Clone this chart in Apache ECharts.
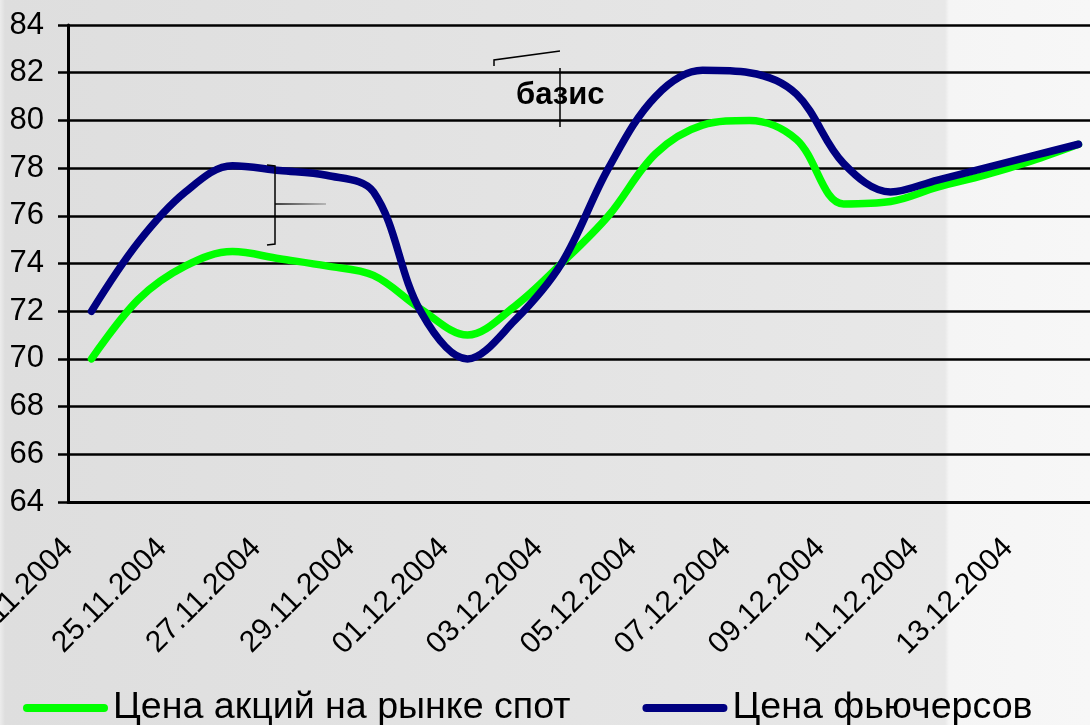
<!DOCTYPE html>
<html>
<head>
<meta charset="utf-8">
<script src="https://cdn.jsdelivr.net/npm/echarts@6/dist/echarts.min.js"></script>
<style>
  html, body { margin: 0; padding: 0; overflow: hidden; }
  #basis-chart {
    width: 1090px; height: 725px;
    background: linear-gradient(to right, #ececec 0px, #dedede 5px, #e2e2e2 400px, #e8e8e8 945px, #f5f5f5 949px, #f7f7f7 1090px);
  }
</style>
</head>
<body>
<div id="basis-chart"></div>
<script>
// даты торгов
var dates = ['23.11.2004', '24.11.2004', '25.11.2004', '26.11.2004', '27.11.2004', '28.11.2004',
    '29.11.2004', '30.11.2004', '01.12.2004', '02.12.2004', '03.12.2004', '04.12.2004',
    '05.12.2004', '06.12.2004', '07.12.2004', '08.12.2004', '09.12.2004', '10.12.2004',
    '11.12.2004', '12.12.2004', '13.12.2004', '14.12.2004'];
// цена акций на рынке спот
var spot = [70.0, 72.5, 73.9, 74.5, 74.2, 73.9, 73.5, 72.1, 71.0, 72.2, 74.0,
    76.0, 78.6, 79.8, 80.0, 79.2, 76.5, 76.6, 77.2, 77.7, 78.3, 79.0];
// цена фьючерсов
var futures = [72.0, 74.9, 77.0, 78.1, 77.9, 77.7, 77.0, 72.0, 70.0, 71.6, 74.0,
    78.0, 81.0, 82.1, 82.0, 81.1, 78.2, 77.0, 77.5, 78.0, 78.5, 79.0];
var seriesNames = ['Цена акций на рынке спот', 'Цена фьючерсов'];
var yTicks = [64, 66, 68, 70, 72, 74, 76, 78, 80, 82, 84];

var font = 'Liberation Sans, Arial, sans-serif';
var pill = 'path://M4,0 H81 A4,4 0 0 1 81,8 H4 A4,4 0 0 1 4,0 Z';

var myChart = echarts.init(document.getElementById('basis-chart'));
var option = {
    animation: false,
    backgroundColor: 'transparent',
    textStyle: { fontFamily: font },
    grid: {
        left: 68,
        top: 25,
        right: -12,
        bottom: 223,
        containLabel: false,
        outerBoundsMode: 'none'
    },
    legend: {
        left: 18,
        top: 684,
        itemWidth: 85,
        itemHeight: 8,
        itemGap: 72,
        icon: pill,
        textStyle: { fontSize: 37.6, color: '#000', fontFamily: font },
        data: [
            { name: seriesNames[0], itemStyle: { color: '#00ff00' } },
            { name: seriesNames[1], itemStyle: { color: '#000080' } }
        ]
    },
    xAxis: {
        type: 'category',
        boundaryGap: true,
        data: dates,
        axisLine: { lineStyle: { color: '#000', width: 3 } },
        axisTick: { interval: 1, length: 8, lineStyle: { color: '#000', width: 2.5 } },
        axisLabel: {
            interval: 1,
            rotate: 45,
            fontSize: 30,
            color: '#000',
            margin: 18,
            padding: [0, 33, 0, 0]
        },
        splitLine: { show: false }
    },
    yAxis: {
        type: 'value',
        min: yTicks[0],
        max: yTicks[yTicks.length - 1],
        interval: 2,
        axisLine: { show: true, lineStyle: { color: '#000', width: 3 } },
        axisTick: { show: true, length: 10, lineStyle: { color: '#000', width: 2.5 } },
        axisLabel: { fontSize: 31, color: '#000', margin: 24 },
        splitLine: { show: true, lineStyle: { color: '#000', width: 2.5 } }
    },
    series: [
        {
            name: seriesNames[0],
            type: 'line',
            data: spot,
            smooth: 0.35,
            symbol: 'none',
            lineStyle: { color: '#00ff00', width: 7.5, cap: 'round', join: 'round' },
            itemStyle: { color: '#00ff00' }
        },
        {
            name: seriesNames[1],
            type: 'line',
            data: futures,
            smooth: 0.35,
            symbol: 'none',
            lineStyle: { color: '#000080', width: 7.5, cap: 'round', join: 'round' },
            itemStyle: { color: '#000080' }
        }
    ],
    graphic: [
        // скобка между линиями
        {
            type: 'polyline',
            shape: { points: [[267, 165], [275, 166], [275, 244], [267, 245]] },
            style: { stroke: '#000', lineWidth: 1.5, fill: null },
            z: 10
        },
        {
            type: 'line',
            shape: { x1: 275, y1: 204, x2: 326, y2: 204 },
            style: {
                lineWidth: 1.5,
                stroke: new echarts.graphic.LinearGradient(0, 0, 1, 0, [
                    { offset: 0, color: '#000' },
                    { offset: 1, color: '#b0b0b0' }
                ], false)
            },
            z: 10
        },
        // выноска "базис"
        {
            type: 'polyline',
            shape: { points: [[494, 66], [494, 60], [560, 51]] },
            style: { stroke: '#000', lineWidth: 1.5, fill: null },
            z: 10
        },
        {
            type: 'line',
            shape: { x1: 560, y1: 68, x2: 560, y2: 127 },
            style: { stroke: '#000', lineWidth: 1.5 },
            z: 10
        },
        {
            type: 'text',
            x: 516,
            y: 95,
            style: {
                text: 'базис',
                font: 'bold 31px Liberation Sans, Arial, sans-serif',
                fill: '#000',
                verticalAlign: 'middle'
            },
            z: 11
        }
    ]
};
myChart.setOption(option);
window.addEventListener('resize', function () {
    myChart.resize();
});
</script>
</body>
</html>
